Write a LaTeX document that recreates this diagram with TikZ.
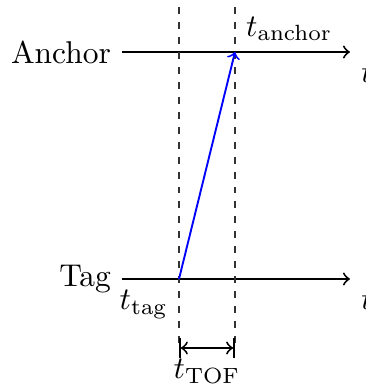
\documentclass[tikz,border=0pt]{standalone}
\begin{document}
\begin{tikzpicture}[x=0.3175pt,y=-0.3175pt,
  axis/.style={->,semithick},
  guide/.style={thin,black!80,dash pattern=on 2.2pt off 2.55pt},
  msg/.style={->,blue,semithick}]
\useasboundingbox (0,0) rectangle (366,387);
\coordinate (aS) at (122,52);
\coordinate (aE) at (350,52);
\coordinate (tS) at (122,279);
\coordinate (tE) at (350,279);
\coordinate (p1) at (179,279);
\coordinate (p2) at (235,52);
\coordinate (d1t) at (179,7);
\coordinate (d1b) at (179,345);
\coordinate (d2t) at (235,7);
\coordinate (d2b) at (235,345);
\coordinate (m1) at (179,348);
\coordinate (m2) at (235,348);
\node[left] (anc) at (aS) {Anchor};
\node[left] (tag) at (tS) {Tag};
\draw[axis] (aS) -- (aE) node[below right] (ta) {$t$};
\draw[axis] (tS) -- (tE) node[below right] (tt) {$t$};
\draw[guide] (d1t) -- (d1b);
\draw[guide] (d2t) -- (d2b);
\draw[msg] (p1) -- (p2);
\node[above right] (lanc) at (p2) {$t_{\mathrm{anchor}}$};
\node[below left] (ltag) at (p1) {$t_{\mathrm{tag}}$};
\draw[|<->|,semithick] (m1) -- (m2) node[midway,below] (ltof) {$t_{\mathrm{TOF}}$};
\end{tikzpicture}
\end{document}
